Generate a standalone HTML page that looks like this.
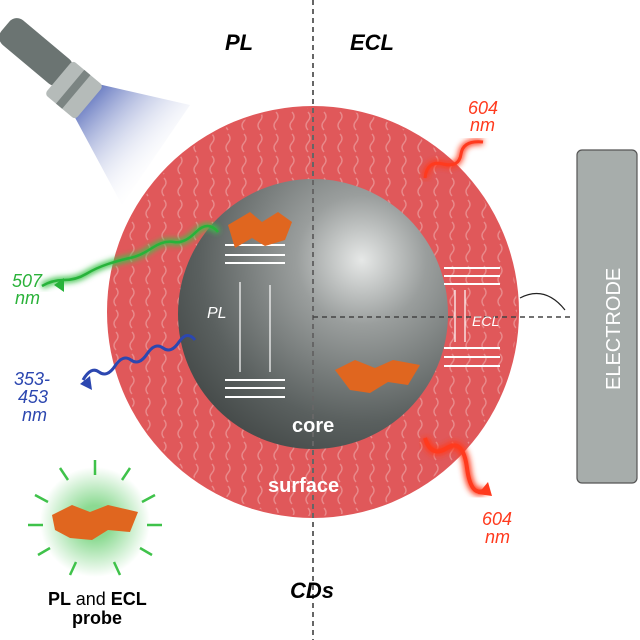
<!DOCTYPE html>
<html><head><meta charset="utf-8"><style>
html,body{margin:0;padding:0;background:#fff}
svg{display:block}
text{font-family:"Liberation Sans",sans-serif}
</style></head><body>
<svg width="640" height="640" viewBox="0 0 640 640">
<defs>
<radialGradient id="core" cx="0.68" cy="0.3" r="0.8">
<stop offset="0" stop-color="#e6e8e7"/><stop offset="0.3" stop-color="#9a9e9d"/><stop offset="0.75" stop-color="#5a605f"/><stop offset="1" stop-color="#434847"/>
</radialGradient>
<linearGradient id="beam" x1="0" y1="0" x2="1" y2="1">
<stop offset="0" stop-color="#2a44a8"/><stop offset="0.75" stop-color="#ffffff" stop-opacity="0"/>
</linearGradient>
<filter id="glow"><feGaussianBlur stdDeviation="3"/></filter>
<pattern id="hair" width="16" height="22" patternUnits="userSpaceOnUse">
<path d="M4 2 q4 4.5 0 9 q-4 4.5 0 9" stroke="#ec9e9e" stroke-width="1.4" fill="none"/>
</pattern>
<radialGradient id="probeglow"><stop offset="0.3" stop-color="#3fc24a"/><stop offset="1" stop-color="#3fc24a" stop-opacity="0"/></radialGradient>
</defs>
<g>
<polygon points="72,112 98,84 190,105 122,205" fill="url(#beam)"/>
<g transform="translate(36,52) rotate(40)"><rect x="-40" y="-16" width="80" height="32" rx="10" fill="#6b7472"/></g>
<g transform="translate(74,90) rotate(40)"><rect x="-20" y="-22" width="40" height="44" rx="4" fill="#b5bbb9"/><rect x="-5" y="-22" width="8" height="44" fill="#7b8482"/></g>
</g>
<circle cx="313" cy="312" r="206" fill="#e0585a"/>
<circle cx="313" cy="312" r="204" fill="url(#hair)" opacity="0.7"/>
<circle cx="313" cy="314" r="135" fill="url(#core)"/>
<line x1="313" y1="0" x2="313" y2="640" stroke="#666" stroke-width="2" stroke-dasharray="5,4"/>
<line x1="313" y1="317" x2="570" y2="317" stroke="#444" stroke-width="1.5" stroke-dasharray="5,4"/>
<path d="M565 310 q-20 -25 -45 -12" stroke="#222" fill="none" stroke-width="1.2"/>
<g stroke="#fff" stroke-width="2">
<line x1="225" y1="245" x2="285" y2="245"/><line x1="225" y1="255" x2="285" y2="255"/><line x1="225" y1="263" x2="285" y2="263"/>
<line x1="225" y1="380" x2="285" y2="380"/><line x1="225" y1="388" x2="285" y2="388"/><line x1="225" y1="397" x2="285" y2="397"/>
<line x1="240" y1="282" x2="240" y2="372" stroke-width="1.2"/><line x1="270" y1="372" x2="270" y2="285" stroke-width="1.2"/>
<line x1="444" y1="268" x2="500" y2="268"/><line x1="444" y1="276" x2="500" y2="276"/><line x1="444" y1="284" x2="500" y2="284"/>
<line x1="444" y1="348" x2="500" y2="348"/><line x1="444" y1="357" x2="500" y2="357"/><line x1="444" y1="366" x2="500" y2="366"/>
<line x1="455" y1="290" x2="455" y2="342" stroke-width="1.2"/><line x1="465" y1="342" x2="465" y2="290" stroke-width="1.2"/>
</g>
<text x="207" y="318" fill="#fff" font-size="16" font-style="italic">PL</text>
<text x="472" y="326" fill="#fff" font-size="14" font-style="italic">ECL</text>
<polygon points="228,225 250,212 262,222 278,212 292,222 285,240 265,246 252,238 235,248" fill="#e0661f"/>
<polygon points="335,370 355,360 375,368 393,360 420,365 408,385 388,382 370,393 350,390" fill="#e0661f"/>
<path d="M218 232 q-10 -12 -22 0 t-22 10 t-22 6 t-22 10 t-22 6 t-22 10 t-22 6 t-22 6" stroke="#3bc24a" stroke-width="6" fill="none" filter="url(#glow)"/>
<path d="M218 232 q-10 -12 -22 0 t-22 10 t-22 6 t-22 10 t-22 6 t-22 10 t-22 6 t-22 6" stroke="#27b33a" stroke-width="2.5" fill="none"/>
<polygon points="54,285 64,278 64,292" fill="#27b33a"/>
<path d="M195 340 q-8 -10 -16 2 t-16 6 t-16 6 t-16 6 t-16 6 t-16 6 t-16 8" stroke="#2c47b0" stroke-width="3" fill="none"/>
<polygon points="80,384 90,376 92,390" fill="#2c47b0"/>
<path d="M425 178 q2 -18 18 -14 t18 -10 t22 -12" stroke="#ff3a1e" stroke-width="6" fill="none" filter="url(#glow)"/>
<path d="M425 178 q2 -18 18 -14 t18 -10 t22 -12" stroke="#ff3a1e" stroke-width="3" fill="none"/>
<path d="M425 438 q6 20 22 10 t20 20 t18 22" stroke="#ff3a1e" stroke-width="8" fill="none" filter="url(#glow)"/>
<path d="M425 438 q6 20 22 10 t20 20 t18 22" stroke="#ff3a1e" stroke-width="4" fill="none"/>
<polygon points="478,494 492,496 488,482" fill="#ff3a1e"/>
<text x="225" y="50" font-size="22" font-weight="bold" font-style="italic">PL</text>
<text x="350" y="50" font-size="22" font-weight="bold" font-style="italic">ECL</text>
<text x="290" y="598" font-size="22" font-weight="bold" font-style="italic">CDs</text>
<text x="292" y="432" fill="#fff" font-size="20" font-weight="bold">core</text>
<text x="268" y="492" fill="#fff" font-size="20" font-weight="bold">surface</text>
<g font-size="18" font-style="italic" fill="#2bb23a"><text x="12" y="287">507</text><text x="15" y="304">nm</text></g>
<g font-size="18" font-style="italic" fill="#2c47b0"><text x="14" y="385">353-</text><text x="18" y="403">453</text><text x="22" y="421">nm</text></g>
<g font-size="18" font-style="italic" fill="#ff3a1e"><text x="468" y="114">604</text><text x="470" y="131">nm</text><text x="482" y="525">604</text><text x="485" y="543">nm</text></g>
<rect x="577" y="150" width="60" height="333" rx="5" fill="#a7adab" stroke="#555" stroke-width="1.2"/>
<text transform="translate(620,390) rotate(-90)" fill="#fff" font-size="20">ELECTRODE</text>
<g>
<circle cx="95" cy="522" r="55" fill="url(#probeglow)" opacity="0.6"/>
<g stroke="#3fc24a" stroke-width="2.5">
<line x1="95" y1="460" x2="95" y2="475"/><line x1="60" y1="468" x2="68" y2="480"/><line x1="130" y1="468" x2="122" y2="480"/>
<line x1="35" y1="495" x2="48" y2="502"/><line x1="155" y1="495" x2="142" y2="502"/><line x1="28" y1="525" x2="43" y2="525"/><line x1="162" y1="525" x2="147" y2="525"/>
<line x1="38" y1="555" x2="50" y2="548"/><line x1="152" y1="555" x2="140" y2="548"/><line x1="70" y1="575" x2="76" y2="562"/><line x1="120" y1="575" x2="114" y2="562"/>
</g>
<polygon points="52,515 72,505 90,512 108,505 138,512 130,532 108,530 92,540 70,538 55,530" fill="#e0661f"/>
<text x="48" y="605" font-size="18" font-weight="bold">PL <tspan font-weight="normal">and</tspan> ECL</text>
<text x="72" y="624" font-size="18" font-weight="bold">probe</text>
</g>
</svg>
</body></html>
